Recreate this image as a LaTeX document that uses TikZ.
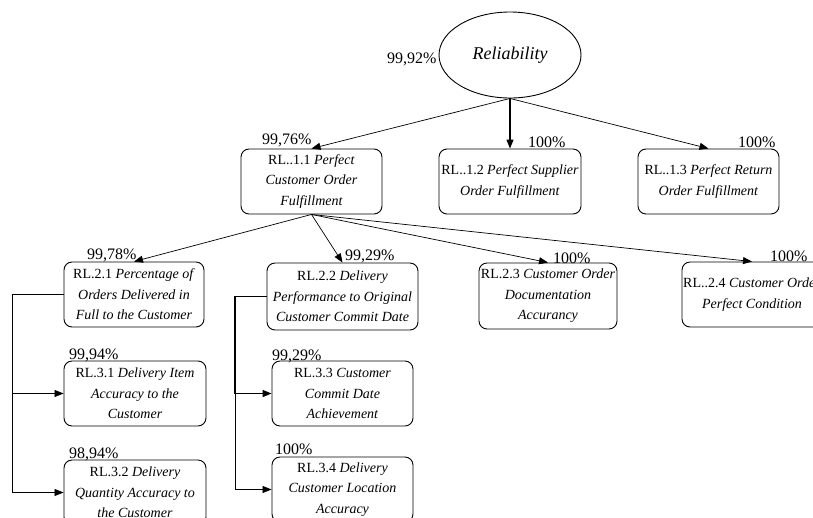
\documentclass[tikz,border=0pt]{standalone}
\usepackage{fontspec}
\setmainfont{Liberation Serif}
\usetikzlibrary{shapes.geometric,arrows.meta}

\begin{document}
\begin{tikzpicture}[x=1pt,y=-1pt,
  box/.style={draw, rounded corners=8pt, line width=0.9pt, align=center,
    inner sep=0pt, minimum height=65pt, font=\fontsize{14}{20.5}\selectfont},
  root/.style={draw, ellipse, line width=0.9pt, minimum width=142pt,
    minimum height=86pt, inner sep=0pt, font=\fontsize{18}{18}\selectfont\itshape},
  pct/.style={anchor=base west, inner sep=0pt, font=\fontsize{16}{16}\selectfont},
  link/.style={line width=0.7pt, -{Triangle[length=9pt,width=7pt]}}]

\useasboundingbox (0,0) rectangle (813,517);
\clip (0,0) rectangle (813,517);

% top goal
\node[root] (rel) at (510,55) {Reliability};
\node[pct] (prel) at (387,63) {99,92\%};

% level 1
\node[box, minimum width=141pt] (b11) at (311.5,181.5)
  {RL..1.1 \textit{Perfect}\\ \textit{Customer Order}\\ \textit{Fulfillment}};
\node[box, minimum width=142pt] (b12) at (510,181.5)
  {RL..1.2 \textit{Perfect Supplier}\\ \textit{Order Fulfillment}};
\node[box, minimum width=141pt] (b13) at (708.5,181.5)
  {RL..1.3 \textit{Perfect Return}\\ \textit{Order Fulfillment}};
\node[pct] (p11) at (262,144) {99,76\%};
\node[pct] (p12) at (528,147) {100\%};
\node[pct] (p13) at (738,147) {100\%};

% level 2
\node[box, minimum width=140pt] (b21) at (134,294.5)
  {RL.2.1 \textit{Percentage of}\\ \textit{Orders Delivered in}\\ \textit{Full to the Customer}};
\node[box, minimum width=151pt, minimum height=67pt] (b22) at (342.5,296.5)
  {RL.2.2 \textit{Delivery}\\ \textit{Performance to Original}\\ \textit{Customer Commit Date}};
\node[box, minimum width=138pt, minimum height=66pt] (b23) at (548,296)
  {RL.2.3 \textit{Customer Order}\\ \textit{Documentation}\\ \textit{Accurancy}};
\node[box, minimum width=140pt] (b24) at (752,294.5)
  {RL..2.4 \textit{Customer Order}\\ \textit{Perfect Condition}};
\node[pct] (p21) at (87,259) {99,78\%};
\node[pct] (p22) at (345,260) {99,29\%};
\node[pct] (p23) at (553,263) {100\%};
\node[pct] (p24) at (770,261) {100\%};

% level 3
\node[box, minimum width=142pt] (b31) at (135,393.5)
  {RL.3.1 \textit{Delivery Item}\\ \textit{Accuracy to the}\\ \textit{Customer}};
\node[box, minimum width=142pt] (b32) at (135,492.5)
  {RL.3.2 \textit{Delivery}\\ \textit{Quantity Accuracy to}\\ \textit{the Customer}};
\node[box, minimum width=141pt] (b33) at (342.5,393.5)
  {RL.3.3 \textit{Customer}\\ \textit{Commit Date}\\ \textit{Achievement}};
\node[box, minimum width=141pt] (b34) at (342.5,489.5)
  {RL.3.4 \textit{Delivery}\\ \textit{Customer Location}\\ \textit{Accuracy}};
\node[pct] (p31) at (69,359) {99,94\%};
\node[pct] (p32) at (69,458) {98,94\%};
\node[pct] (p33) at (272,360) {99,29\%};
\node[pct] (p34) at (275,454) {100\%};

% goal to level 1
\draw[link] (rel.south) -- (b11.north);
\draw[link, line width=1.2pt] (rel.south) -- (b12.north);
\draw[link] (rel.south) -- (b13.north);

% level 1 to level 2
\draw[link] (b11.south) -- (b21.north);
\draw[link] (b11.south) -- (b22.north);
\draw[link] (b11.south) -- (b23.north);
\draw[link] (b11.south) -- (b24.north);

% level 2 to level 3 (elbow connectors)
\draw[link] (b21.west) -- ++(-51,0) |- (b31.west);
\draw[link] (b21.west) -- ++(-51,0) |- (b32.west);
\draw[link, line width=1.4pt] (b22.west) -- ++(-32,0) |- (b33.west);
\draw[link] (b22.west) -- ++(-31,0) |- (b34.west);

\end{tikzpicture}
\end{document}
